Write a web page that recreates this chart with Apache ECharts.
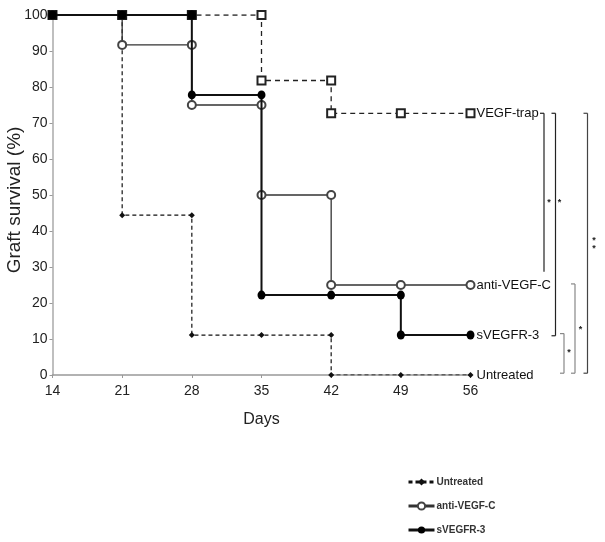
<!DOCTYPE html>
<html>
<head>
<meta charset="utf-8">
<script src="https://cdn.jsdelivr.net/npm/echarts@6/dist/echarts.min.js"></script>
<style>
html, body { margin: 0; padding: 0; background: #fff; }
#chart { width: 605px; height: 542px; }
</style>
</head>
<body>
<div id="chart"></div>
<script>
// 数据
var days = [14, 21, 28, 35, 42, 49, 56];
var vegfTrap = [100, 100, 100, 81.8, 72.7, 72.7, 72.7];
var untreated = [100, 44.4, 11.1, 11.1, 0, 0, 0];
var antiVegfC = [100, 91.7, 75, 50, 25, 25, 25];
var sVegfr3 = [100, 100, 77.8, 22.2, 22.2, 11.1, 11.1];
var sharedDays = [14, 21, 28];
var sharedValue = 100;

// 显著性标注 (y 值, 星号)
var sigMarks = [
	{ dx: 73.5, from: 72.7, to: 28.7, top: true, bottom: false, color: '#222', starDx: 78.5, stars: [48] },
	{ dx: 85, from: 72.7, to: 10.9, top: true, bottom: true, color: '#222', starDx: 89, stars: [48] },
	{ dx: 117, from: 72.7, to: 0.5, top: true, bottom: true, color: '#444', starDx: 123.5, stars: [37.3, 35.2] },
	{ dx: 93.5, from: 11.5, to: 0.5, top: true, bottom: true, color: '#888', starDx: 98.5, stars: [6.2] },
	{ dx: 104.5, from: 25.3, to: 0.5, top: true, bottom: true, color: '#888', starDx: 110, stars: [12.6] }
];

//阶梯点
function stepPoints(xs, ys) {
	var pts = [[xs[0], ys[0]]];
	for (var i = 1; i < xs.length; i++) {
		pts.push([xs[i], ys[i - 1]]);
		if (ys[i] !== ys[i - 1]) pts.push([xs[i], ys[i]]);
	}
	return pts;
}

var sans = "'Liberation Sans', Arial, sans-serif";

function endLabel() {
	return {
		show: true,
		distance: 6,
		formatter: '{a}',
		fontFamily: sans,
		fontSize: 13,
		color: '#111'
	};
}

var myChart = echarts.init(document.getElementById('chart'));
var option = {
	animation: false,
	grid: { left: 52.5, right: 134.5, top: 15, bottom: 167, outerBoundsMode: 'none', containLabel: false },
	legend: {
		data: ['Untreated', 'anti-VEGF-C', 'sVEGFR-3'],
		orient: 'vertical',
		left: 402,
		top: 472,
		itemWidth: 26,
		itemHeight: 9,
		itemGap: 14,
		textStyle: { fontFamily: sans, fontSize: 10, fontWeight: 'bold', color: '#333', padding: [0, 0, 0, -3] },
		lineStyle: { width: 3 }
	},
	xAxis: {
		type: 'value',
		min: 14,
		max: 56,
		interval: 7,
		name: 'Days',
		nameLocation: 'middle',
		nameGap: 37,
		nameMoveOverlap: false,
		nameTextStyle: { fontFamily: sans, fontSize: 16, color: '#222' },
		axisLine: { lineStyle: { color: '#999', width: 1.5 } },
		axisTick: { length: 3, lineStyle: { color: '#999' } },
		axisLabel: { margin: 9, fontFamily: sans, fontSize: 14, color: '#222' },
		splitLine: { show: false }
	},
	yAxis: {
		type: 'value',
		min: 0,
		max: 100,
		interval: 10,
		name: 'Graft survival (%)',
		nameLocation: 'middle',
		nameGap: 28,
		nameMoveOverlap: false,
		nameTextStyle: { fontFamily: sans, fontSize: 19, color: '#222', padding: [0, 0, 0, -10] },
		axisLine: { show: true, lineStyle: { color: '#aaa', width: 1.5 } },
		axisTick: { show: true, length: 3, lineStyle: { color: '#999' } },
		axisLabel: { margin: 5, fontFamily: sans, fontSize: 14, color: '#222' },
		splitLine: { show: false }
	},
	series: [
		{
			name: 'VEGF-trap',
			type: 'line',
			data: stepPoints(days, vegfTrap),
			symbol: 'emptyRect',
			symbolSize: 8,
			showAllSymbol: true,
			itemStyle: { color: '#222', borderWidth: 1 },
			lineStyle: { color: '#222', width: 1.3, type: [5, 4] },
			endLabel: endLabel(),
			z: 2
		},
		{
			name: 'Untreated',
			type: 'line',
			data: stepPoints(days, untreated),
			symbol: 'diamond',
			symbolSize: 6,
			showAllSymbol: true,
			itemStyle: { color: '#111' },
			lineStyle: { color: '#111', width: 1.2, type: [4, 3] },
			endLabel: endLabel(),
			z: 3
		},
		{
			name: 'anti-VEGF-C',
			type: 'line',
			data: stepPoints(days, antiVegfC),
			symbol: 'emptyCircle',
			symbolSize: 8,
			showAllSymbol: true,
			itemStyle: { color: '#444', borderWidth: 1 },
			lineStyle: { color: '#333', width: 1.3 },
			endLabel: endLabel(),
			z: 4
		},
		{
			name: 'sVEGFR-3',
			type: 'line',
			data: stepPoints(days, sVegfr3),
			symbol: 'circle',
			symbolSize: [8, 9],
			showAllSymbol: true,
			itemStyle: { color: '#000' },
			lineStyle: { color: '#111', width: 2 },
			endLabel: endLabel(),
			z: 5
		},
		{
			name: 'shared',
			type: 'scatter',
			data: sharedDays.map(function(d) { return [d, sharedValue]; }),
			symbol: 'rect',
			symbolSize: 9,
			itemStyle: { color: '#000' },
			z: 6
		}
	]
};
myChart.setOption(option);

//	显著性括号
var x56 = myChart.convertToPixel({ gridIndex: 0 }, [56, 0])[0];
var els = [];
sigMarks.forEach(function(m) {
	var x = x56 + m.dx;
	var y1 = myChart.convertToPixel({ gridIndex: 0 }, [56, m.from])[1];
	var y2 = myChart.convertToPixel({ gridIndex: 0 }, [56, m.to])[1];
	els.push({ type: 'line', shape: { x1: x, y1: y1, x2: x, y2: y2 }, style: { stroke: m.color, lineWidth: 1.2 } });
	if (m.top) els.push({ type: 'line', shape: { x1: x - 4, y1: y1, x2: x, y2: y1 }, style: { stroke: m.color, lineWidth: 1.2 } });
	if (m.bottom) els.push({ type: 'line', shape: { x1: x - 4, y1: y2, x2: x, y2: y2 }, style: { stroke: m.color, lineWidth: 1.2 } });
	m.stars.forEach(function(v) {
		var sy = myChart.convertToPixel({ gridIndex: 0 }, [56, v])[1];
		els.push({
			type: 'text',
			x: x56 + m.starDx,
			y: sy,
			style: { text: '*', font: 'bold 9px ' + sans, fill: '#222', align: 'center', verticalAlign: 'middle' }
		});
	});
});
myChart.setOption({ graphic: { elements: els } });
</script>
</body>
</html>
